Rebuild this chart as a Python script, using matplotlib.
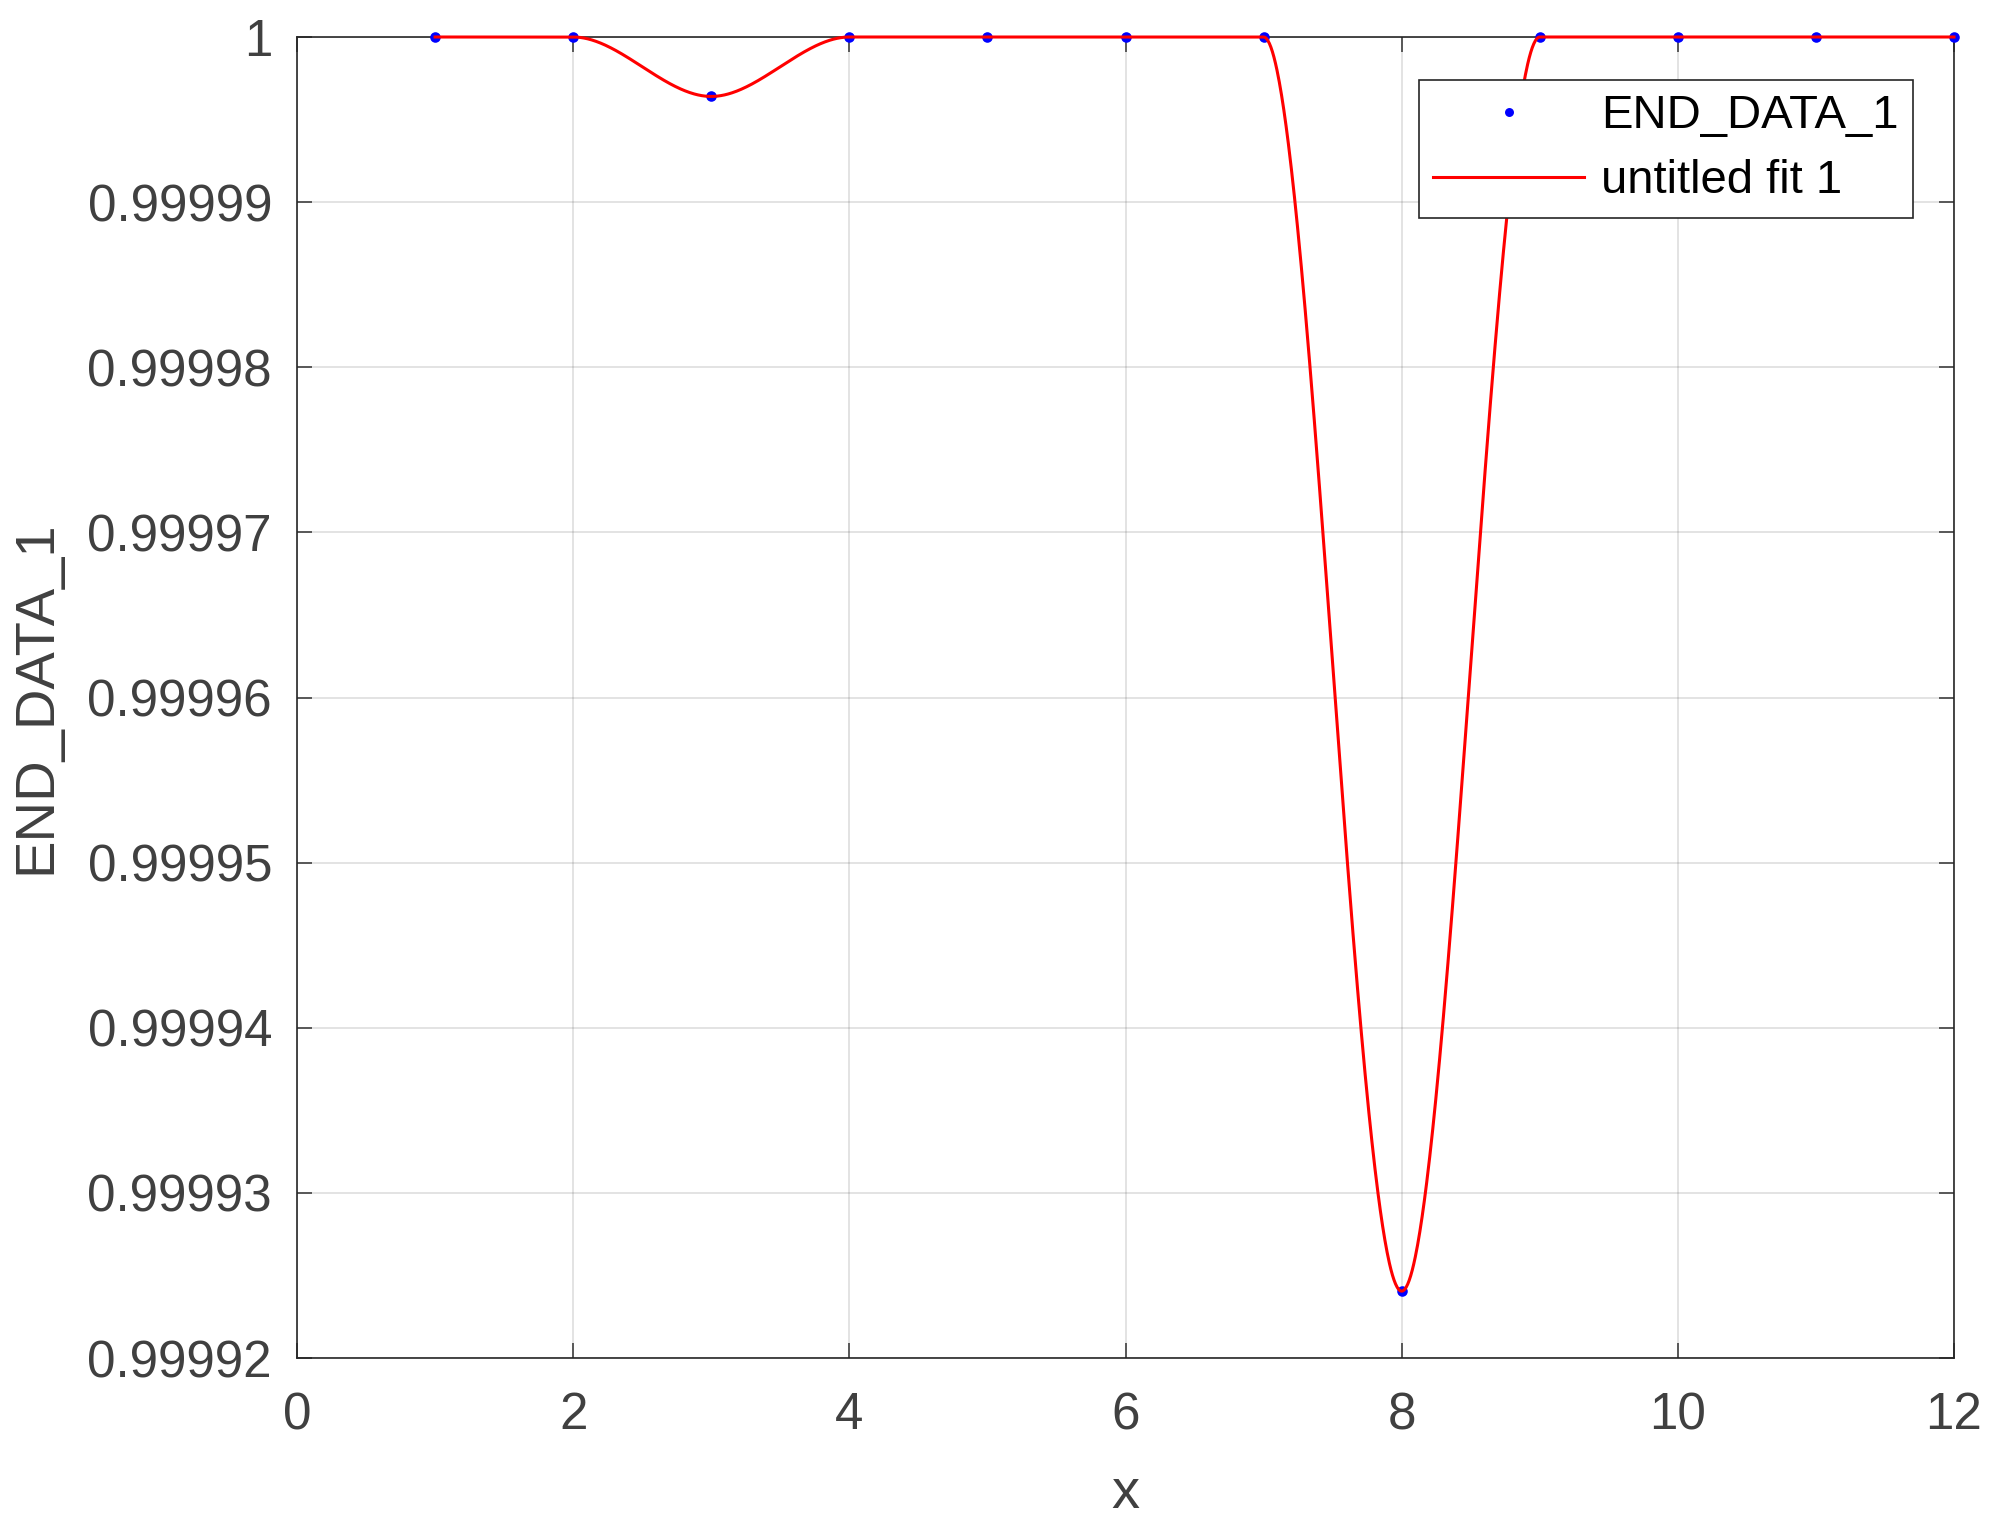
import matplotlib
matplotlib.use("Agg")
import matplotlib.pyplot as plt
from matplotlib.ticker import FuncFormatter
import numpy as np

# data
x_data = [1, 2, 3, 4, 5, 6, 7, 8, 9, 10, 11, 12]
y_data = [1.0, 1.0, 0.9999964, 1.0, 1.0, 1.0, 1.0, 0.99992405, 1.0, 1.0, 1.0, 1.0]
y_ticks = [0.99992, 0.99993, 0.99994, 0.99995, 0.99996, 0.99997, 0.99998, 0.99999, 1.0]
x_ticks = [0, 2, 4, 6, 8, 10, 12]


def pchip(x, y, xq):
    # shape-preserving piecewise cubic (Fritsch-Carlson), like MATLAB pchip
    x = np.asarray(x, float)
    y = np.asarray(y, float)
    h = np.diff(x)
    delta = np.diff(y) / h
    n = len(x)
    d = np.zeros(n)
    for k in range(1, n - 1):
        if delta[k - 1] * delta[k] > 0:
            w1 = 2 * h[k] + h[k - 1]
            w2 = h[k] + 2 * h[k - 1]
            d[k] = (w1 + w2) / (w1 / delta[k - 1] + w2 / delta[k])
    # end slopes
    def end_slope(h0, h1, del0, del1):
        s = ((2 * h0 + h1) * del0 - h0 * del1) / (h0 + h1)
        if np.sign(s) != np.sign(del0):
            s = 0.0
        elif np.sign(del0) != np.sign(del1) and abs(s) > abs(3 * del0):
            s = 3 * del0
        return s
    d[0] = end_slope(h[0], h[1], delta[0], delta[1])
    d[-1] = end_slope(h[-1], h[-2], delta[-1], delta[-2])

    idx = np.clip(np.searchsorted(x, xq) - 1, 0, n - 2)
    hk = h[idx]
    t = (xq - x[idx]) / hk
    h00 = 2 * t**3 - 3 * t**2 + 1
    h10 = t**3 - 2 * t**2 + t
    h01 = -2 * t**3 + 3 * t**2
    h11 = t**3 - t**2
    return h00 * y[idx] + h10 * hk * d[idx] + h01 * y[idx + 1] + h11 * hk * d[idx + 1]


x_fit = np.linspace(min(x_data), max(x_data), 2000)
y_fit = pchip(x_data, y_data, x_fit)

plt.rcParams['font.family'] = ['Liberation Sans', 'DejaVu Sans']

fig = plt.figure(figsize=(10, 7.69), dpi=200)
ax = fig.add_axes([297 / 2000, 1 - 1358 / 1538, 1657 / 2000, 1321 / 1538])

ax.plot(x_data, y_data, 'o', color='blue', markersize=3.8, markeredgewidth=0,
        label='END_DATA_1', clip_on=False, zorder=3)
ax.plot(x_fit, y_fit, '-', color='red', linewidth=1.1, label='untitled fit 1',
        clip_on=False, zorder=4)

ax.set_xlim(0, 12)
ax.set_ylim(0.99992, 1.0)
ax.set_xticks(x_ticks)
ax.set_yticks(y_ticks)
ax.yaxis.set_major_formatter(FuncFormatter(lambda v, p: '%g' % v))
ax.xaxis.set_major_formatter(FuncFormatter(lambda v, p: '%g' % v))

gray = '#404040'
ax.tick_params(direction='in', length=5.5, width=0.6, top=True, right=True,
               labelsize=18.4, colors=gray, pad=9)
ax.tick_params(axis='x', pad=12)
for s in ax.spines.values():
    s.set_color('#262626')
    s.set_linewidth(0.6)

ax.grid(True, color='#262626', alpha=0.15, linewidth=0.6)
ax.set_axisbelow(True)

ax.set_xlabel('x', fontsize=20.2, color=gray, labelpad=10)
ax.set_ylabel('END_DATA_1', fontsize=20.2, color=gray, labelpad=9)

leg = ax.legend(loc='upper right', bbox_to_anchor=(0.975, 0.9675), borderaxespad=0,
                fontsize=17, fancybox=False, framealpha=1, edgecolor='#262626',
                handlelength=3.2, markerscale=0.85, borderpad=0.3, labelspacing=0.45,
                handletextpad=0.35)
leg.get_frame().set_linewidth(0.6)

fig.savefig('out.png', dpi=200, facecolor='white')
